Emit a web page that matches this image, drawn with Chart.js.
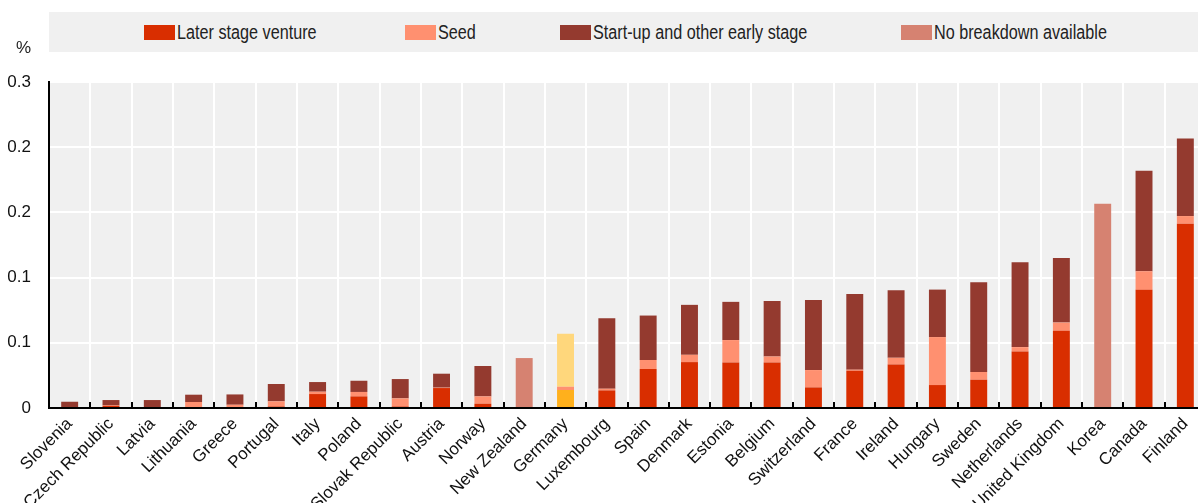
<!DOCTYPE html>
<html>
<head>
<meta charset="utf-8">
<script src="https://cdn.jsdelivr.net/npm/chart.js@4/dist/chart.umd.min.js"></script>
<style>
  html, body { margin:0; padding:0; background:#fff; overflow:hidden; }
  body { width:1198px; height:503px; position:relative; font-family:"Liberation Sans", Arial, sans-serif; }
  #wrap { position:absolute; left:0; top:0; width:1206px; height:503px; }
  #legend { position:absolute; left:49px; top:12px; width:1149px; height:40px; background:#F0F0F0; }
  .item { position:absolute; top:0; height:40px; display:flex; align-items:center; color:#222; white-space:nowrap; font-size:20px; }
  .sw { width:31px; height:15px; margin-right:2px; display:inline-block; flex:none; }
  .tx { display:inline-block; transform:scaleX(0.81); transform-origin:0 50%; }
  #pct { position:absolute; left:16px; top:38px; color:#222; font-size:17px; }
</style>
</head>
<body>
<div id="wrap"><canvas id="c" width="1206" height="503"></canvas></div>
<div id="legend"></div>
<div id="pct">%</div>
<script>
const categories = ["Slovenia","Czech Republic","Latvia","Lithuania","Greece","Portugal","Italy","Poland","Slovak Republic","Austria","Norway","New Zealand","Germany","Luxembourg","Spain","Denmark","Estonia","Belgium","Switzerland","France","Ireland","Hungary","Sweden","Netherlands","United Kingdom","Korea","Canada","Finland"];
const laterStage  = [0,0.0018,0,0,0,0.0012,0.0107,0.0089,0.0012,0.0153,0.0033,null,0.0138,0.0135,0.0299,0.0352,0.0349,0.0349,0.0158,0.0286,0.0334,0.0176,0.0217,0.0433,0.0592,null,0.0906,0.1413];
const seed        = [0,0.0004,0,0.0046,0.0025,0.0039,0.0018,0.0034,0.0062,0.0003,0.0056,null,0.0025,0.0013,0.0069,0.0056,0.0172,0.0046,0.0133,0.0008,0.0051,0.0368,0.0059,0.0034,0.0063,null,0.0143,0.0059];
const startUp     = [0.0048,0.0039,0.0061,0.0056,0.0079,0.0133,0.0074,0.0086,0.0148,0.0107,0.0233,null,0.0406,0.0541,0.0341,0.0383,0.0293,0.0426,0.0538,0.0581,0.0518,0.0364,0.0689,0.0651,0.0496,null,0.0770,0.0595];
const noBreakdown = [null,null,null,null,null,null,null,null,null,null,null,0.0383,null,null,null,null,null,null,null,null,null,null,null,null,null,0.1567,null,null];
const yTickLabels = ["0","0.1","0.1","0.2","0.2","0.3"];
const seriesNames = ["Later stage venture","Seed","Start-up and other early stage","No breakdown available"];
const highlight = "Germany";

const baseColors = ["#D92E00","#FF9070","#943A2F","#D68271"];
const hiColors   = ["#FFB01C","#FF9070","#FFD77C","#D68271"];
const FAM = '"Liberation Sans", Arial, sans-serif';

function colorsFor(i){ return categories.map(c => c === highlight ? hiColors[i] : baseColors[i]); }

// HTML legend (item left offsets inside the legend box)
const legendLefts = [95, 356, 511, 852];
const lg = document.getElementById('legend');
seriesNames.forEach((n,i)=>{
  const it = document.createElement('div'); it.className='item'; it.style.left = legendLefts[i] + 'px';
  const sw = document.createElement('span'); sw.className='sw'; sw.style.background = baseColors[i];
  const tx = document.createElement('span'); tx.className='tx'; tx.textContent = n;
  it.appendChild(sw); it.appendChild(tx); lg.appendChild(it);
});

const bgPlugin = {
  id:'bg',
  beforeDraw(chart){
    const {ctx, chartArea:a} = chart;
    ctx.save(); ctx.fillStyle = '#F0F0F0';
    ctx.fillRect(a.left, a.top, a.right-a.left, a.bottom-a.top);
    ctx.restore();
  },
  afterDraw(chart){
    const {ctx, chartArea:a, scales:{x}} = chart;
    ctx.save(); ctx.strokeStyle = '#000'; ctx.lineWidth = 2;
    const half = (x.getPixelForValue(1) - x.getPixelForValue(0))/2;
    for (let i=1;i<categories.length;i++){
      const px = Math.round(x.getPixelForValue(i) - half);
      ctx.beginPath(); ctx.moveTo(px, a.bottom); ctx.lineTo(px, a.bottom-6); ctx.stroke();
    }
    ctx.restore();
  }
};

const ds = (label, data, i) => ({
  label, data, backgroundColor: colorsFor(i), stack:'s',
  barPercentage:0.41, categoryPercentage:1.0, borderWidth:0
});

new Chart(document.getElementById('c'), {
  type:'bar',
  data:{
    labels: categories,
    datasets:[
      ds(seriesNames[0], laterStage, 0),
      ds(seriesNames[1], seed, 1),
      ds(seriesNames[2], startUp, 2),
      ds(seriesNames[3], noBreakdown, 3)
    ]
  },
  options:{
    responsive:false, animation:false, maintainAspectRatio:false,
    layout:{ padding:{ top:82, right:0, left:0, bottom:0 } },
    plugins:{ legend:{display:false}, tooltip:{enabled:false} },
    scales:{
      x:{
        stacked:true,
        offset:true,
        grid:{ color:'#FFFFFF', lineWidth:2, offset:true, drawTicks:false },
        border:{ color:'#000', width:2 },
        ticks:{ maxRotation:45, minRotation:45, autoSkip:false, padding:6,
                color:'#111', font:{ family:FAM, size:17 } },
        afterFit(s){ s.height = 95; }
      },
      y:{
        stacked:true, min:0, max:0.25,
        grid:{ color:'#FFFFFF', lineWidth:2, drawTicks:false },
        border:{ color:'#000', width:2 },
        ticks:{ stepSize:0.05, padding:18, color:'#111',
                font:{ family:FAM, size:17 },
                callback:(v,idx)=> yTickLabels[idx] },
        afterFit(s){ s.width = 49; }
      }
    }
  },
  plugins:[bgPlugin]
});
</script>
</body>
</html>
